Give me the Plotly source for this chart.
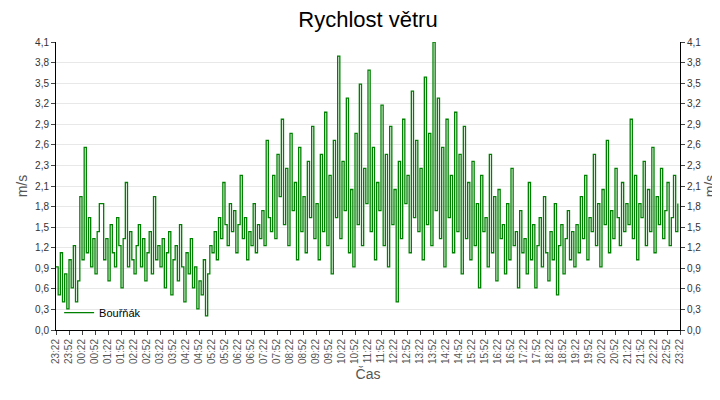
import plotly.graph_objects as go
from datetime import datetime, timedelta

values = [
0.9,0.5,1.1,0.4,0.8,0.3,1.0,0.6,1.2,0.4,0.7,1.9,1.0,2.6,1.1,1.6,0.9,1.3,0.8,1.4,1.8,1.8,1.0,1.3,
0.7,1.5,1.1,0.9,1.6,1.2,0.6,1.3,2.1,0.9,1.4,1.0,0.8,1.2,1.5,0.9,1.3,0.7,1.1,1.4,0.8,1.9,1.0,1.2,
0.9,1.3,0.6,1.1,1.4,0.5,1.0,1.2,0.7,1.5,0.9,0.4,1.1,0.8,1.3,0.6,0.9,0.3,0.7,0.5,1.0,0.2,0.8,1.2,
1.1,1.4,1.0,1.6,1.3,2.1,1.5,1.2,1.8,1.4,1.7,1.1,1.5,2.2,1.3,1.6,1.0,1.4,1.2,1.8,1.1,1.5,1.3,1.7,
1.2,2.7,1.6,1.4,2.2,1.3,2.5,1.9,3.0,1.5,2.3,1.2,2.8,1.7,2.1,1.0,2.6,1.4,1.9,1.1,2.4,1.6,2.9,1.3,
1.8,1.0,2.5,1.4,3.1,1.2,2.2,0.8,2.7,1.6,3.9,1.3,2.4,1.7,3.3,1.1,2.0,0.9,2.8,1.5,3.5,1.2,2.3,1.8,
3.7,1.4,2.6,1.0,2.1,1.7,3.2,1.2,2.5,0.9,2.9,1.5,2.0,0.4,2.4,1.3,3.0,1.8,2.2,1.1,3.4,1.6,2.7,1.4,
2.3,1.0,3.6,1.5,2.8,1.2,4.1,1.7,3.3,1.3,2.6,0.9,3.0,1.6,2.2,1.1,3.1,1.4,2.5,0.8,2.9,1.3,2.1,1.0,
2.4,1.2,1.8,0.6,2.2,1.4,1.6,0.9,2.5,1.1,1.9,0.7,2.0,1.3,1.5,0.8,1.8,1.0,2.3,1.2,1.4,0.6,1.7,1.1,
1.3,0.8,2.1,1.0,1.5,0.6,1.2,1.6,0.9,1.9,1.1,0.7,1.4,1.0,1.8,0.5,1.2,1.5,0.8,1.3,1.7,1.0,1.4,0.9,
1.5,1.1,1.9,1.3,2.2,1.0,1.6,1.4,2.5,1.2,1.8,0.9,2.0,1.5,2.7,1.1,1.7,1.3,2.3,1.6,1.2,2.1,1.4,1.8,
1.5,3.0,1.3,2.2,1.0,1.8,1.6,2.4,1.2,2.0,1.4,2.6,1.1,1.9,1.5,2.3,1.3,1.7,2.1,1.2,1.6,2.2,1.4,1.8,
]
start = datetime(2024, 1, 1, 23, 22)
times = [start + timedelta(minutes=5 * i) for i in range(len(values))]
tick_times = [start + timedelta(minutes=30 * i) for i in range(49)]
tick_labels = [t.strftime("%H:%M") for t in tick_times]
y_ticks = [4.1 * i / 14 for i in range(15)]
y_labels = ["0,0","0,3","0,6","0,9","1,2","1,5","1,8","2,1","2,3","2,6","2,9","3,2","3,5","3,8","4,1"]

fig = go.Figure()
fig.add_trace(go.Scatter(x=times, y=values, mode="lines", line=dict(color="#008000", width=1.3, shape="hv"),
                         name="Bouřňák"))
fig.add_trace(go.Scatter(x=[times[0]], y=[0], yaxis="y2", mode="markers", marker=dict(opacity=0),
                         showlegend=False, hoverinfo="skip"))
axis_font = dict(family="Liberation Sans, Arial", size=11, color="#333")
fig.update_layout(
    width=720, height=400, margin=dict(l=48, r=48, t=34, b=78),
    paper_bgcolor="white", plot_bgcolor="white",
    title=dict(text="Rychlost větru", x=0.5, y=0.99, yanchor="top",
               font=dict(family="Liberation Sans, Arial", size=22, color="black")),
    font=axis_font,
    showlegend=True,
    legend=dict(x=0.005, y=0.01, xanchor="left", yanchor="bottom", bgcolor="rgba(0,0,0,0)",
                font=dict(size=11, color="black")),
    xaxis=dict(range=[tick_times[0], tick_times[-1]], tickvals=tick_times, ticktext=tick_labels,
               tickangle=-90, ticks="outside", ticklen=4, showgrid=False, showline=True,
               linecolor="black", tickfont=dict(size=10, color="#555"),
               title=dict(text="Čas", font=dict(size=14, color="#555"), standoff=6)),
    yaxis=dict(range=[0, 4.1], tickvals=y_ticks, ticktext=y_labels, ticks="outside", ticklen=4,
               showline=True, linecolor="black", gridcolor="#e8e8e8", zeroline=False,
               tickfont=dict(size=10, color="#333"),
               title=dict(text="m/s", font=dict(size=14, color="#555"), standoff=4)),
    yaxis2=dict(range=[0, 4.1], tickvals=y_ticks, ticktext=y_labels, overlaying="y", side="right",
                ticks="outside", ticklen=4, showline=True, linecolor="black", showgrid=False,
                zeroline=False, tickfont=dict(size=10, color="#333"),
                title=dict(text="m/s", font=dict(size=14, color="#555"), standoff=4)),
)
fig.write_html("out.html")
